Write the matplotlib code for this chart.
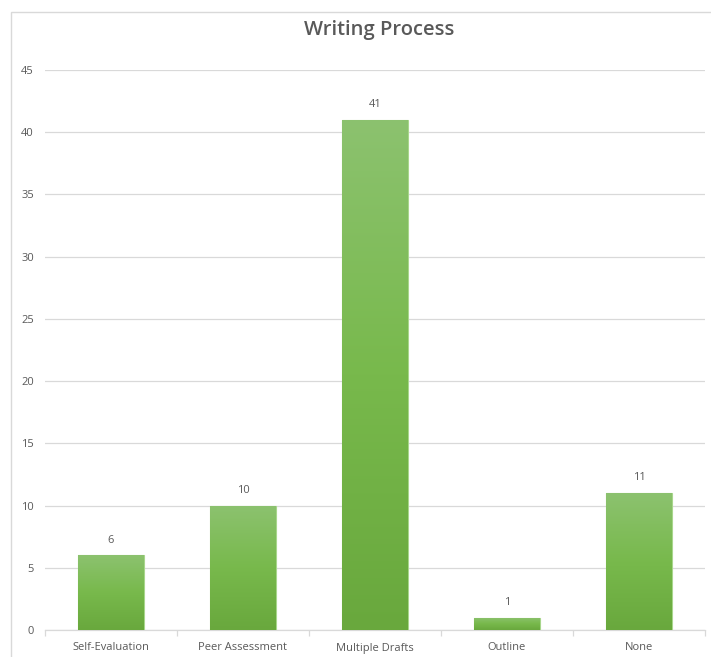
import numpy as np
import matplotlib
matplotlib.use("Agg")
import matplotlib.pyplot as plt
from matplotlib.colors import LinearSegmentedColormap
from matplotlib.patches import Rectangle

categories = ["Self-Evaluation", "Peer Assessment", "Multiple Drafts", "Outline", "None"]
counts = [6, 10, 41, 1, 11]
y_ticks = [0, 5, 10, 15, 20, 25, 30, 35, 40, 45]

plt.rcParams["font.family"] = ["Open Sans", "DejaVu Sans"]
text_gray = "#595959"
grid_gray = "#d9d9d9"

fig = plt.figure(figsize=(7.11, 6.57), dpi=100)
fig.patch.set_facecolor("white")

# chart frame (runs off the right and bottom edges)
fig.add_artist(Rectangle((11 / 711, -0.05), 1.0, 1 - 12 / 657 + 0.05,
                         transform=fig.transFigure, fill=False,
                         edgecolor="#d9d9d9", linewidth=1.0))

ax = fig.add_axes([45 / 711, 1 - 630 / 657, 660 / 711, (630 - 70) / 657])
x = np.arange(len(categories))
ax.set_xlim(-0.5, len(categories) - 0.5)
ax.set_ylim(0, 45)

bars = ax.bar(x, counts, width=0.5, color="#7ab850", edgecolor="#a8d68c",
              linewidth=0.8, zorder=3)

# vertical gradient fill for each bar
grad_cmap = LinearSegmentedColormap.from_list(
    "green_grad", ["#69a83d", "#78b94c", "#8cc26f"])
grad = np.linspace(0, 1, 256).reshape(-1, 1)
for b in bars:
    x0, y0 = b.get_x(), b.get_y()
    w, h = b.get_width(), b.get_height()
    im = ax.imshow(grad, cmap=grad_cmap, origin="lower", aspect="auto",
                   extent=[x0, x0 + w, y0, y0 + h], zorder=3.5)
    im.set_clip_path(b)

for xi, v in zip(x, counts):
    ax.annotate(str(v), (xi, v), xytext=(0, 7), textcoords="offset points",
                ha="center", va="bottom", fontsize=8, color=text_gray)

ax.set_yticks(y_ticks)
ax.set_yticklabels([str(t) for t in y_ticks], fontsize=8, color=text_gray)
ax.yaxis.grid(True, color=grid_gray, linewidth=0.9, zorder=0)
ax.tick_params(axis="y", length=0, pad=8)

ax.set_xticks(x)
ax.set_xticklabels(categories, fontsize=8, color=text_gray)
ax.tick_params(axis="x", length=0, pad=9)
# category separator ticks below the axis
ax.set_xticks(np.arange(-0.5, len(categories), 1.0), minor=True)
ax.tick_params(axis="x", which="minor", length=4, color=grid_gray, width=0.9)

for side in ["top", "right", "left"]:
    ax.spines[side].set_visible(False)
ax.spines["bottom"].set_color(grid_gray)
ax.spines["bottom"].set_linewidth(0.9)
ax.set_axisbelow(True)

fig.text(379 / 711, 1 - 30 / 657, "Writing Process", ha="center", va="center",
         fontsize=14.5, fontweight="semibold", color=text_gray)

fig.savefig("out.png", dpi=100, facecolor="white")
